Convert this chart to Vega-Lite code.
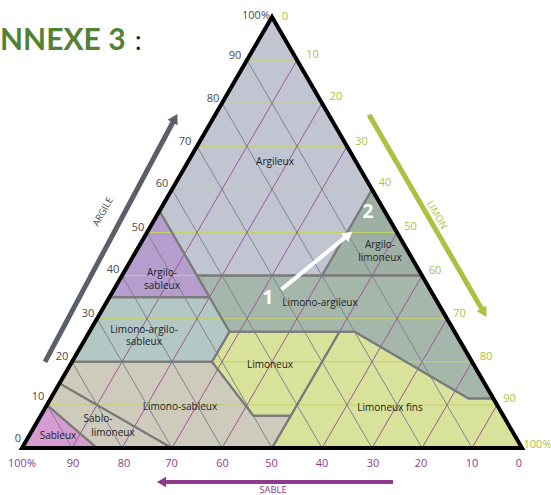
{
  "$schema": "https://vega.github.io/schema/vega-lite/v6.json",
  "width": 551,
  "height": 495,
  "padding": 0,
  "autosize": {"type": "none"},
  "background": "white",
  "config": {"view": {"stroke": null}},
  "encoding": {
    "x": {"field": "x", "type": "quantitative", "scale": {"domain": [-4.4, 105.8], "nice": false, "zero": false}, "axis": null},
    "y": {"field": "y", "type": "quantitative", "scale": {"domain": [-10.9, 103.94], "nice": false, "zero": false}, "axis": null}
  },
  "datasets": {
    "regions": [
      {"region": "Argileux", "o": 1, "s": 0, "c": 100},
      {"region": "Argileux", "o": 2, "s": 45, "c": 55},
      {"region": "Argileux", "o": 3, "s": 45, "c": 40},
      {"region": "Argileux", "o": 4, "s": 20, "c": 40},
      {"region": "Argileux", "o": 5, "s": 0, "c": 60},
      {"region": "Argileux", "o": 6, "s": 0, "c": 100},
      {"region": "Argilo-sableux", "o": 1, "s": 45, "c": 55},
      {"region": "Argilo-sableux", "o": 2, "s": 65, "c": 35},
      {"region": "Argilo-sableux", "o": 3, "s": 45, "c": 35},
      {"region": "Argilo-sableux", "o": 4, "s": 45, "c": 55},
      {"region": "Argilo-limoneux", "o": 1, "s": 20, "c": 40},
      {"region": "Argilo-limoneux", "o": 2, "s": 0, "c": 40},
      {"region": "Argilo-limoneux", "o": 3, "s": 0, "c": 60},
      {"region": "Argilo-limoneux", "o": 4, "s": 20, "c": 40},
      {"region": "Limono-argileux", "o": 1, "s": 45, "c": 40},
      {"region": "Limono-argileux", "o": 2, "s": 0, "c": 40},
      {"region": "Limono-argileux", "o": 3, "s": 0, "c": 11.5},
      {"region": "Limono-argileux", "o": 4, "s": 5, "c": 11.5},
      {"region": "Limono-argileux", "o": 5, "s": 20, "c": 27},
      {"region": "Limono-argileux", "o": 6, "s": 45, "c": 27},
      {"region": "Limono-argileux", "o": 7, "s": 45, "c": 40},
      {"region": "Limono-argilo-sableux", "o": 1, "s": 65, "c": 35},
      {"region": "Limono-argilo-sableux", "o": 2, "s": 45, "c": 35},
      {"region": "Limono-argilo-sableux", "o": 3, "s": 45, "c": 27},
      {"region": "Limono-argilo-sableux", "o": 4, "s": 52, "c": 20},
      {"region": "Limono-argilo-sableux", "o": 5, "s": 80, "c": 20},
      {"region": "Limono-argilo-sableux", "o": 6, "s": 65, "c": 35},
      {"region": "Limoneux", "o": 1, "s": 45, "c": 27},
      {"region": "Limoneux", "o": 2, "s": 23, "c": 27},
      {"region": "Limoneux", "o": 3, "s": 42.5, "c": 7.5},
      {"region": "Limoneux", "o": 4, "s": 50, "c": 7.5},
      {"region": "Limoneux", "o": 5, "s": 52, "c": 20},
      {"region": "Limoneux", "o": 6, "s": 45, "c": 27},
      {"region": "Limoneux fins", "o": 1, "s": 23, "c": 27},
      {"region": "Limoneux fins", "o": 2, "s": 20, "c": 27},
      {"region": "Limoneux fins", "o": 3, "s": 5, "c": 11.5},
      {"region": "Limoneux fins", "o": 4, "s": 0, "c": 11.5},
      {"region": "Limoneux fins", "o": 5, "s": 0, "c": 0},
      {"region": "Limoneux fins", "o": 6, "s": 50, "c": 0},
      {"region": "Limoneux fins", "o": 7, "s": 42.5, "c": 7.5},
      {"region": "Limoneux fins", "o": 8, "s": 23, "c": 27},
      {"region": "Limono-sableux", "o": 1, "s": 80, "c": 20},
      {"region": "Limono-sableux", "o": 2, "s": 52, "c": 20},
      {"region": "Limono-sableux", "o": 3, "s": 50, "c": 7.5},
      {"region": "Limono-sableux", "o": 4, "s": 42.5, "c": 7.5},
      {"region": "Limono-sableux", "o": 5, "s": 50, "c": 0},
      {"region": "Limono-sableux", "o": 6, "s": 70, "c": 0},
      {"region": "Limono-sableux", "o": 7, "s": 85, "c": 15},
      {"region": "Limono-sableux", "o": 8, "s": 80, "c": 20},
      {"region": "Sablo-limoneux", "o": 1, "s": 85, "c": 15},
      {"region": "Sablo-limoneux", "o": 2, "s": 70, "c": 0},
      {"region": "Sablo-limoneux", "o": 3, "s": 85, "c": 0},
      {"region": "Sablo-limoneux", "o": 4, "s": 90, "c": 10},
      {"region": "Sablo-limoneux", "o": 5, "s": 85, "c": 15},
      {"region": "Sableux", "o": 1, "s": 90, "c": 10},
      {"region": "Sableux", "o": 2, "s": 85, "c": 0},
      {"region": "Sableux", "o": 3, "s": 100, "c": 0},
      {"region": "Sableux", "o": 4, "s": 90, "c": 10}
    ],
    "grid": [
      {"t": "argile", "s1": 90, "c1": 10, "s2": 0, "c2": 10},
      {"t": "argile", "s1": 80, "c1": 20, "s2": 0, "c2": 20},
      {"t": "argile", "s1": 70, "c1": 30, "s2": 0, "c2": 30},
      {"t": "argile", "s1": 60, "c1": 40, "s2": 0, "c2": 40},
      {"t": "argile", "s1": 50, "c1": 50, "s2": 0, "c2": 50},
      {"t": "argile", "s1": 40, "c1": 60, "s2": 0, "c2": 60},
      {"t": "argile", "s1": 30, "c1": 70, "s2": 0, "c2": 70},
      {"t": "argile", "s1": 20, "c1": 80, "s2": 0, "c2": 80},
      {"t": "argile", "s1": 10, "c1": 90, "s2": 0, "c2": 90},
      {"t": "limon", "s1": 90, "c1": 0, "s2": 0, "c2": 90},
      {"t": "limon", "s1": 80, "c1": 0, "s2": 0, "c2": 80},
      {"t": "limon", "s1": 70, "c1": 0, "s2": 0, "c2": 70},
      {"t": "limon", "s1": 60, "c1": 0, "s2": 0, "c2": 60},
      {"t": "limon", "s1": 50, "c1": 0, "s2": 0, "c2": 50},
      {"t": "limon", "s1": 40, "c1": 0, "s2": 0, "c2": 40},
      {"t": "limon", "s1": 30, "c1": 0, "s2": 0, "c2": 30},
      {"t": "limon", "s1": 20, "c1": 0, "s2": 0, "c2": 20},
      {"t": "limon", "s1": 10, "c1": 0, "s2": 0, "c2": 10},
      {"t": "sable", "s1": 10, "c1": 0, "s2": 10, "c2": 90},
      {"t": "sable", "s1": 20, "c1": 0, "s2": 20, "c2": 80},
      {"t": "sable", "s1": 30, "c1": 0, "s2": 30, "c2": 70},
      {"t": "sable", "s1": 40, "c1": 0, "s2": 40, "c2": 60},
      {"t": "sable", "s1": 50, "c1": 0, "s2": 50, "c2": 50},
      {"t": "sable", "s1": 60, "c1": 0, "s2": 60, "c2": 40},
      {"t": "sable", "s1": 70, "c1": 0, "s2": 70, "c2": 30},
      {"t": "sable", "s1": 80, "c1": 0, "s2": 80, "c2": 20},
      {"t": "sable", "s1": 90, "c1": 0, "s2": 90, "c2": 10}
    ]
  },
  "layer": [
    {
      "data": {"name": "regions"},
      "transform": [{"calculate": "100 - datum.s - datum.c / 2", "as": "x"}, {"calculate": "datum.c", "as": "y"}],
      "mark": {"type": "line", "strokeWidth": 0, "stroke": "transparent", "fillOpacity": 1},
      "encoding": {
        "fill": {"field": "region", "type": "nominal", "legend": null,
          "scale": {"domain": ["Argileux", "Argilo-sableux", "Argilo-limoneux", "Limono-argileux", "Limono-argilo-sableux", "Limoneux", "Limoneux fins", "Limono-sableux", "Sablo-limoneux", "Sableux"],
                    "range": ["#c1c5d2", "#b59dcd", "#9eafa4", "#a5b7aa", "#b3c7c5", "#d8e29b", "#d8e29b", "#cfcbbc", "#cfcbbc", "#d49cd0"]}},
        "detail": {"field": "region"},
        "order": {"field": "o", "type": "quantitative"}
      }
    },
    {
      "data": {"name": "grid"},
      "transform": [
        {"calculate": "100 - datum.s1 - datum.c1 / 2", "as": "x"}, {"calculate": "datum.c1", "as": "y"},
        {"calculate": "100 - datum.s2 - datum.c2 / 2", "as": "x2"}, {"calculate": "datum.c2", "as": "y2"}
      ],
      "mark": {"type": "rule", "strokeWidth": 1},
      "encoding": {
        "x2": {"field": "x2"},
        "y2": {"field": "y2"},
        "color": {"field": "t", "type": "nominal", "legend": null,
          "scale": {"domain": ["argile", "limon", "sable"], "range": ["#c3d266", "#9a5896", "#7c8591"]}}
      }
    },
    {
      "data": {"name": "regions"},
      "transform": [{"calculate": "100 - datum.s - datum.c / 2", "as": "x"}, {"calculate": "datum.c", "as": "y"}],
      "mark": {"type": "line", "stroke": "#7a7a7a", "strokeWidth": 2, "strokeJoin": "round"},
      "encoding": {
        "detail": {"field": "region"},
        "order": {"field": "o", "type": "quantitative"}
      }
    },
    {
      "data": {"values": [
        {"o": 1, "s": 0, "c": 100}, {"o": 2, "s": 0, "c": 0}, {"o": 3, "s": 100, "c": 0}, {"o": 4, "s": 0, "c": 100}, {"o": 5, "s": 0, "c": 0}
      ]},
      "transform": [{"calculate": "100 - datum.s - datum.c / 2", "as": "x"}, {"calculate": "datum.c", "as": "y"}],
      "mark": {"type": "line", "stroke": "black", "strokeWidth": 4, "strokeJoin": "miter", "strokeMiterLimit": 10},
      "encoding": {"order": {"field": "o", "type": "quantitative"}}
    },
    {
      "data": {"values": [
        {"x": 50.6, "y": 66.4, "t": "Argileux"},
        {"x": 28.0, "y": 40.6, "t": "Argilo-\nsableux"},
        {"x": 71.6, "y": 47.1, "t": "Argilo-\nlimoneux"},
        {"x": 59.6, "y": 33.6, "t": "Limono-argileux"},
        {"x": 24.4, "y": 27.4, "t": "Limono-argilo-\nsableux"},
        {"x": 49.6, "y": 19.3, "t": "Limoneux"},
        {"x": 73.6, "y": 9.3, "t": "Limoneux fins"},
        {"x": 31.6, "y": 9.5, "t": "Limono-sableux"},
        {"x": 15.2, "y": 6.7, "t": "Sablo-"},
        {"x": 18.2, "y": 3.5, "t": "limoneux"},
        {"x": 7.2, "y": 2.8, "t": "Sableux"}
      ]},
      "mark": {"type": "text", "font": "Open Sans", "fontSize": 10, "color": "#222222", "align": "center", "baseline": "middle", "lineBreak": "\n", "lineHeight": 12.5},
      "encoding": {"text": {"field": "t"}}
    },
    {
      "data": {"values": [
        {"x": 46.8, "y": 100.2, "t": "100%"},
        {"x": 42.6, "y": 90.9, "t": "90"},
        {"x": 38.2, "y": 81.0, "t": "80"},
        {"x": 32.6, "y": 71.0, "t": "70"},
        {"x": 28.0, "y": 61.3, "t": "60"},
        {"x": 23.2, "y": 51.0, "t": "50"},
        {"x": 18.2, "y": 41.3, "t": "40"},
        {"x": 13.2, "y": 31.1, "t": "30"},
        {"x": 8.0, "y": 21.1, "t": "20"},
        {"x": 3.2, "y": 11.8, "t": "10"},
        {"x": -0.8, "y": 2.1, "t": "0"}
      ]},
      "mark": {"type": "text", "font": "Open Sans", "fontSize": 11, "color": "#4a4a4a", "align": "center", "baseline": "middle"},
      "encoding": {"text": {"field": "t"}}
    },
    {
      "data": {"values": [
        {"x": 52.6, "y": 100.0, "t": "0"},
        {"x": 58.1, "y": 91.2, "t": "10"},
        {"x": 62.8, "y": 81.4, "t": "20"},
        {"x": 67.9, "y": 71.1, "t": "30"},
        {"x": 72.6, "y": 61.6, "t": "40"},
        {"x": 77.7, "y": 51.3, "t": "50"},
        {"x": 82.6, "y": 41.1, "t": "60"},
        {"x": 87.5, "y": 31.2, "t": "70"},
        {"x": 92.8, "y": 21.2, "t": "80"},
        {"x": 97.5, "y": 11.3, "t": "90"},
        {"x": 103.1, "y": 0.7, "t": "100%"}
      ]},
      "mark": {"type": "text", "font": "Open Sans", "fontSize": 11, "color": "#a9c23f", "align": "center", "baseline": "middle"},
      "encoding": {"text": {"field": "t"}}
    },
    {
      "data": {"values": [
        {"x": 0, "y": -3.7, "t": "100%"},
        {"x": 10.2, "y": -3.7, "t": "90"},
        {"x": 20.4, "y": -3.7, "t": "80"},
        {"x": 29.9, "y": -3.7, "t": "70"},
        {"x": 40.1, "y": -3.7, "t": "60"},
        {"x": 49.9, "y": -3.7, "t": "50"},
        {"x": 60.0, "y": -3.7, "t": "40"},
        {"x": 70.2, "y": -3.7, "t": "30"},
        {"x": 79.8, "y": -3.7, "t": "20"},
        {"x": 90.0, "y": -3.7, "t": "10"},
        {"x": 99.4, "y": -3.7, "t": "0"}
      ]},
      "mark": {"type": "text", "font": "Open Sans", "fontSize": 11, "color": "#8e3a8c", "align": "center", "baseline": "middle"},
      "encoding": {"text": {"field": "t"}}
    },
    {
      "data": {"values": [{"x": 4.6, "y": 20.0, "x2": 30.6, "y2": 76.5}]},
      "mark": {"type": "rule", "stroke": "#5b6068", "strokeWidth": 5},
      "encoding": {"x2": {"field": "x2"}, "y2": {"field": "y2"}}
    },
    {
      "data": {"values": [{"x": 30.6, "y": 76.5}]},
      "mark": {"type": "point", "shape": "triangle-up", "filled": true, "fill": "#5b6068", "opacity": 1, "size": 130, "angle": 29},
      "encoding": {}
    },
    {
      "data": {"values": [{"x": 16.2, "y": 54.8, "t": "ARGILE"}]},
      "mark": {"type": "text", "font": "Open Sans", "fontSize": 9.5, "color": "#4a4a4a", "angle": -61, "align": "center", "baseline": "middle"},
      "encoding": {"text": {"field": "t"}}
    },
    {
      "data": {"values": [{"x": 69.4, "y": 77.3, "x2": 92.4, "y2": 31.4}]},
      "mark": {"type": "rule", "stroke": "#a9c23f", "strokeWidth": 5},
      "encoding": {"x2": {"field": "x2"}, "y2": {"field": "y2"}}
    },
    {
      "data": {"values": [{"x": 92.4, "y": 31.4}]},
      "mark": {"type": "point", "shape": "triangle-up", "filled": true, "fill": "#a9c23f", "opacity": 1, "size": 130, "angle": 150},
      "encoding": {}
    },
    {
      "data": {"values": [{"x": 83.0, "y": 54.1, "t": "LIMON"}]},
      "mark": {"type": "text", "font": "Open Sans", "fontSize": 9.5, "color": "#a9c23f", "angle": 60, "align": "center", "baseline": "middle"},
      "encoding": {"text": {"field": "t"}}
    },
    {
      "data": {"values": [{"x": 74.2, "y": -7.9, "x2": 27.9, "y2": -7.9}]},
      "mark": {"type": "rule", "stroke": "#8e3a8c", "strokeWidth": 4},
      "encoding": {"x2": {"field": "x2"}, "y2": {"field": "y2"}}
    },
    {
      "data": {"values": [{"x": 27.9, "y": -7.9}]},
      "mark": {"type": "point", "shape": "triangle-up", "filled": true, "fill": "#8e3a8c", "opacity": 1, "size": 110, "angle": 270},
      "encoding": {}
    },
    {
      "data": {"values": [{"x": 50.2, "y": -9.7, "t": "SABLE"}]},
      "mark": {"type": "text", "font": "Open Sans", "fontSize": 9.5, "color": "#8e3a8c", "align": "center", "baseline": "middle"},
      "encoding": {"text": {"field": "t"}}
    },
    {
      "data": {"values": [{"x": 51.9, "y": 36.8, "x2": 65.3, "y2": 49.5}]},
      "mark": {"type": "rule", "stroke": "white", "strokeWidth": 4},
      "encoding": {"x2": {"field": "x2"}, "y2": {"field": "y2"}}
    },
    {
      "data": {"values": [{"x": 65.3, "y": 49.5}]},
      "mark": {"type": "point", "shape": "triangle-up", "filled": true, "fill": "white", "opacity": 1, "size": 120, "angle": 51},
      "encoding": {}
    },
    {
      "data": {"values": [{"x": 49.2, "y": 34.8, "t": "1"}, {"x": 69.2, "y": 54.8, "t": "2"}]},
      "mark": {"type": "text", "font": "Open Sans", "fontSize": 19, "fontWeight": "bold", "color": "white", "align": "center", "baseline": "middle"},
      "encoding": {"text": {"field": "t"}}
    },
    {
      "data": {"values": [{"x": -4.4, "y": 92.3, "t": "NNEXE 3"}]},
      "mark": {"type": "text", "font": "Lato", "fontSize": 30, "fontWeight": "bold", "color": "#548235", "align": "left", "baseline": "alphabetic"},
      "encoding": {"text": {"field": "t"}}
    },
    {
      "data": {"values": [{"x": 22.6, "y": 92.3, "t": ":"}]},
      "mark": {"type": "text", "font": "Lato", "fontSize": 26, "color": "#111111", "align": "left", "baseline": "alphabetic"},
      "encoding": {"text": {"field": "t"}}
    }
  ]
}
